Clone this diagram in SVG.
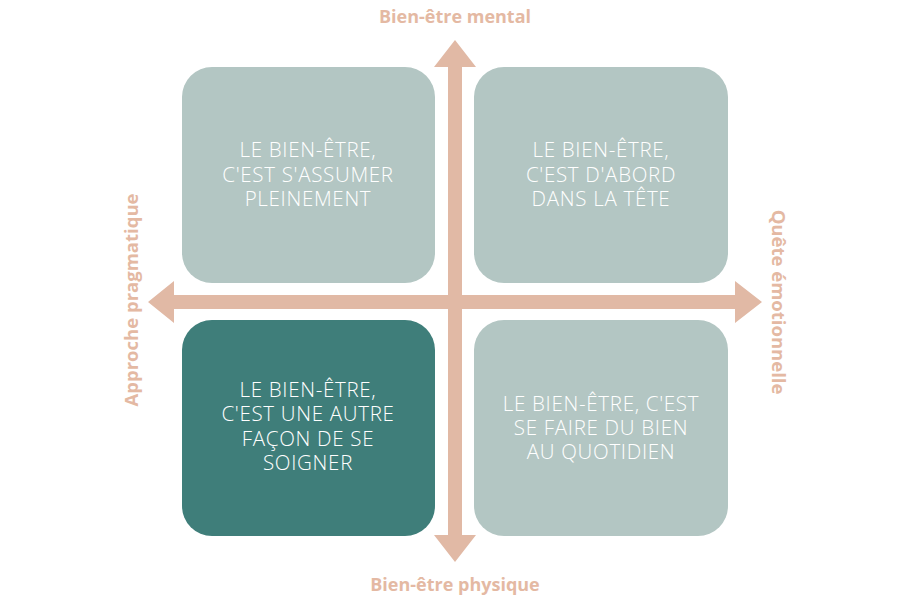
<svg xmlns="http://www.w3.org/2000/svg" width="909" height="600" viewBox="0 0 909 600">
<style>
.box{fill:#b3c6c3}
.dark{fill:#3f7e7a}
.t{font-family:"Open Sans","Lato",sans-serif;font-weight:300;font-size:20.5px;letter-spacing:0.7px;fill:#ffffff;text-anchor:middle}
.ax{font-family:"Open Sans","Lato",sans-serif;font-weight:700;font-size:18px;fill:#e4b9a3;text-anchor:middle}
.axs{font-family:"Open Sans","Lato",sans-serif;font-weight:700;font-size:18.5px;fill:#e4b9a3;text-anchor:middle}
.arr{fill:#e1b9a5}
</style>
<rect width="909" height="600" fill="#ffffff"/>
<g id="connectors">
<polygon class="arr" points="455,40 476,67 462,67 462,535 476,535 455,562 434,535 448,535 448,67 434,67"/>
<polygon class="arr" points="148,302 174,281 174,295 735,295 735,281 762,302 735,323 735,309 174,309 174,323"/>
</g>
<g id="n1">
<rect class="box" x="182" y="67" width="253" height="216" rx="30"/>
<text class="t" x="308" y="157">LE BIEN-ÊTRE,</text>
<text class="t" x="308" y="182">C'EST S'ASSUMER</text>
<text class="t" x="308" y="206">PLEINEMENT</text>
</g>
<g id="n2">
<rect class="box" x="474" y="67" width="254" height="216" rx="30"/>
<text class="t" x="601" y="157">LE BIEN-ÊTRE,</text>
<text class="t" x="601" y="182">C'EST D'ABORD</text>
<text class="t" x="601" y="206">DANS LA TÊTE</text>
</g>
<g id="n3">
<rect class="dark" x="182" y="320" width="253" height="216" rx="30"/>
<text class="t" x="308" y="397">LE BIEN-ÊTRE,</text>
<text class="t" x="308" y="421">C'EST UNE AUTRE</text>
<text class="t" x="308" y="446">FAÇON DE SE</text>
<text class="t" x="308" y="470">SOIGNER</text>
</g>
<g id="n4">
<rect class="box" x="474" y="320" width="254" height="216" rx="30"/>
<text class="t" x="601" y="411">LE BIEN-ÊTRE, C'EST</text>
<text class="t" x="601" y="435">SE FAIRE DU BIEN</text>
<text class="t" x="601" y="459">AU QUOTIDIEN</text>
</g>
<g id="labels">
<text class="ax" x="455" y="23">Bien-être mental</text>
<text class="ax" x="455" y="591">Bien-être physique</text>
<text class="axs" transform="translate(138,300) rotate(-90)">Approche pragmatique</text>
<text class="axs" transform="translate(772,302) rotate(90)">Quête émotionnelle</text>
</g>
</svg>
